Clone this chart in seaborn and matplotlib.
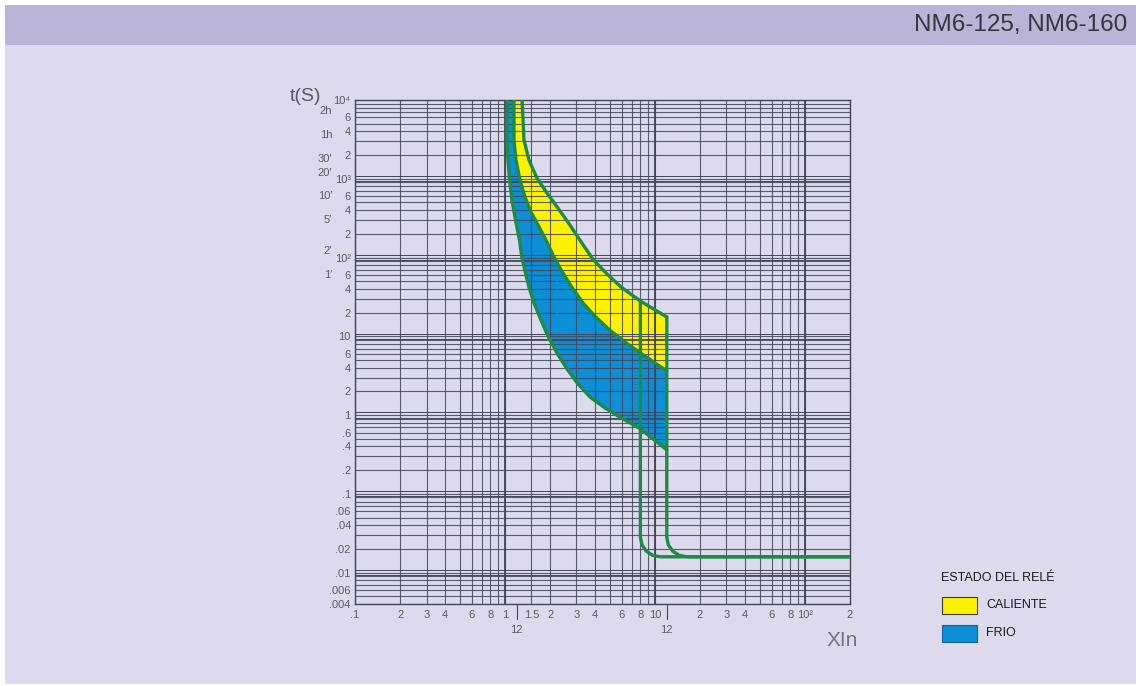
import matplotlib
matplotlib.use("Agg")
import matplotlib.pyplot as plt
import seaborn as sns
import numpy as np
import pandas as pd
from matplotlib.patches import Rectangle
from matplotlib.ticker import FixedLocator, LogLocator, NullFormatter

# ---------------- data ----------------
title = "NM6-125, NM6-160"

# hot-state maximum curve (upper edge of yellow band)
hot_max_x = [1.30, 1.34, 1.445, 1.634, 1.905, 2.254, 2.712, 3.258, 3.89, 4.79, 5.93, 8.0, 12.0]
hot_max_y = [10000, 3107, 1733, 1023, 661, 426, 259, 153, 93.3, 62.0, 42.4, 28.1, 17.6]

# boundary between hot (yellow) and cold (blue) bands
mid_x = [1.148, 1.148, 1.184, 1.259, 1.359, 1.491, 1.660, 1.876, 2.089, 2.326, 2.754, 3.311,
         4.03, 5.00, 6.30, 8.0, 12.0]
mid_y = [10000, 3107, 1733, 966, 588, 379, 259, 167, 108, 73.8, 43.6, 26.5,
         17.6, 12.0, 8.49, 6.15, 3.64]

# cold-state minimum curve (lower edge of blue band)
cold_min_x = [1.031, 1.031, 1.047, 1.072, 1.113, 1.175, 1.250, 1.298, 1.380, 1.445, 1.561,
              1.738, 1.935, 2.221, 2.591, 3.067, 3.687, 4.65, 5.97, 8.0, 12.0]
cold_min_y = [10000, 3107, 1733, 966, 538, 300, 167, 98.8, 60.2, 42.4, 26.5,
              16.1, 10.1, 6.15, 3.86, 2.49, 1.70, 1.23, 0.921, 0.668, 0.362]

# instantaneous trip curves (8 In and 12 In)
inst_lo_x = [8.0, 8.0, 8.19, 8.75, 9.66, 10.87, 200.0]
inst_lo_y = [28.1, 0.0283, 0.0226, 0.0188, 0.0166, 0.0159, 0.0159]
inst_hi_x = [12.0, 12.0, 12.28, 13.13, 14.49, 16.3, 200.0]
inst_hi_y = [17.6, 0.0283, 0.0226, 0.0188, 0.0166, 0.0159, 0.0159]

x_ticks = [0.1, 0.2, 0.3, 0.4, 0.6, 0.8, 1, 1.5, 2, 3, 4, 6, 8, 10, 20, 30, 40, 60, 80, 100, 200]
x_ticklabels = [".1", "2", "3", "4", "6", "8", "1", "1.5", "2", "3", "4", "6", "8", "10",
                "2", "3", "4", "6", "8", "10²", "2"]
x_extra_ticks = [1.2, 12]
x_extra_labels = ["12", "12"]

y_ticks = [1e4, 6000, 4000, 2000, 1e3, 600, 400, 200, 100, 60, 40, 20, 10, 6, 4, 2, 1,
           0.6, 0.4, 0.2, 0.1, 0.06, 0.04, 0.02, 0.01, 0.006, 0.004]
y_ticklabels = ["10⁴", "6", "4", "2", "10³", "6", "4", "2", "10²", "6", "4", "2", "10", "6", "4", "2", "1",
                ".6", ".4", ".2", ".1", ".06", ".04", ".02", ".01", ".006", ".004"]

time_marks = [7200, 3600, 1800, 1200, 600, 300, 120, 60]
time_labels = ["2h", "1h", "30′", "20′", "10′", "5′", "2′", "1′"]

legend_title = "ESTADO DEL RELÉ"
legend_labels = ["CALIENTE", "FRIO"]

# ---------------- style ----------------
BG = "#dcdaec"
BAR = "#bab4d8"
GREEN = "#1d8a45"
YELLOW = "#fff200"
BLUE = "#0c8fd6"
GRID = "#45455a"
LABEL = "#5a5a64"
TICKFONT = ["Liberation Sans", "DejaVu Sans"]

sns.set_theme(style="white")
plt.rcParams["font.family"] = ["Liberation Sans", "DejaVu Sans"]

fig = plt.figure(figsize=(11.36, 6.86), dpi=100, facecolor="white")
W, H = 1136.0, 686.0
fig.patches.append(Rectangle((5 / W, 2 / H), 1 - 5 / W, 1 - 7 / H, transform=fig.transFigure,
                             facecolor=BG, edgecolor="none", zorder=-10))
fig.patches.append(Rectangle((5 / W, 1 - 45 / H), 1 - 5 / W, 40 / H, transform=fig.transFigure,
                             facecolor=BAR, edgecolor="none", zorder=-9))
fig.text(1127 / W, 1 - 25 / H, title, ha="right", va="center", fontsize=17.5,
         family="Liberation Sans", color="#36363c")

ax = fig.add_axes([355 / W, 82 / H, 495 / W, 504 / H])
ax.set_facecolor(BG)
ax.set_xscale("log")
ax.set_yscale("log")
ax.set_xlim(0.1, 200)
ax.set_ylim(0.004, 1e4)

# bands
ax.fill(hot_max_x + mid_x[::-1], hot_max_y + mid_y[::-1], color=YELLOW, zorder=2, lw=0)
ax.fill(mid_x + cold_min_x[::-1], mid_y + cold_min_y[::-1], color=BLUE, zorder=2, lw=0)

# curves
for xs, ys in [(hot_max_x, hot_max_y), (mid_x, mid_y), (cold_min_x, cold_min_y),
               (inst_lo_x, inst_lo_y), (inst_hi_x, inst_hi_y)]:
    sns.lineplot(x=xs, y=ys, sort=False, estimator=None, color=GREEN, lw=2.4, ax=ax,
                 zorder=4, solid_capstyle="round", solid_joinstyle="round")

# grid
ax.xaxis.set_major_locator(FixedLocator(x_ticks))
ax.xaxis.set_minor_locator(LogLocator(base=10, subs=np.arange(2, 10), numticks=50))
ax.yaxis.set_major_locator(FixedLocator(y_ticks))
ax.yaxis.set_minor_locator(LogLocator(base=10, subs=np.arange(2, 10), numticks=50))
ax.xaxis.set_minor_formatter(NullFormatter())
ax.yaxis.set_minor_formatter(NullFormatter())
ax.set_xticklabels(x_ticklabels)
ax.set_yticklabels(y_ticklabels)
ax.grid(which="both", color=GRID, lw=0.8, alpha=0.85, zorder=3)
ax.set_axisbelow(False)
for v in [1, 10, 100]:
    ax.axvline(v, color=GRID, lw=1.3, zorder=3)
for v in [1e3, 1e2, 10, 1, 0.1, 0.01]:
    ax.axhline(v * 1.08, color=GRID, lw=0.7, zorder=3)
    ax.axhline(v * 0.93, color=GRID, lw=0.7, zorder=3)
for s in ax.spines.values():
    s.set_color(GRID)
    s.set_linewidth(1.0)

ax.tick_params(axis="both", which="both", length=0, labelsize=8, labelcolor=LABEL)
ax.tick_params(axis="x", pad=4)
ax.tick_params(axis="y", pad=3)
for lab in ax.get_xticklabels() + ax.get_yticklabels():
    lab.set_family(TICKFONT)

# extra "12" marks under the x axis
tx = ax.get_xaxis_transform()
for xv, lab in zip(x_extra_ticks, x_extra_labels):
    ax.plot([xv, xv], [0, -0.03], transform=tx, color=GRID, lw=0.8, clip_on=False)
    ax.text(xv, -0.042, lab, transform=tx, ha="center", va="top", fontsize=8,
            color=LABEL, family=TICKFONT)

# time labels on the left
ty = ax.get_yaxis_transform()
for yv, lab in zip(time_marks, time_labels):
    ax.text(-0.046, yv, lab, transform=ty, ha="right", va="center", fontsize=8,
            color=LABEL, family=TICKFONT)

ax.text(-0.099, 1.006, "t(S)", transform=ax.transAxes, ha="center", va="center",
        fontsize=14, color=LABEL, family=TICKFONT)
ax.text(0.984, -0.073, "XIn", transform=ax.transAxes, ha="center", va="center",
        fontsize=15, color="#74747e", family=TICKFONT)

# legend
fig.text(941 / W, 1 - 578 / H, legend_title, ha="left", va="center", fontsize=9,
         family="Liberation Sans", color="#1a1a1a")
for i, (lab, col) in enumerate(zip(legend_labels, [YELLOW, BLUE])):
    top = 597 + i * 28
    fig.patches.append(Rectangle((942 / W, 1 - (top + 17) / H), 35 / W, 17 / H,
                                 transform=fig.transFigure, facecolor=col,
                                 edgecolor="#3a3a3a" if i == 0 else "#1a5f90", lw=0.8))
    fig.text(986 / W, 1 - (top + 8) / H, lab, ha="left", va="center", fontsize=9,
             family="Liberation Sans", color="#1a1a1a")

fig.savefig("out.png", dpi=100, facecolor="white")
